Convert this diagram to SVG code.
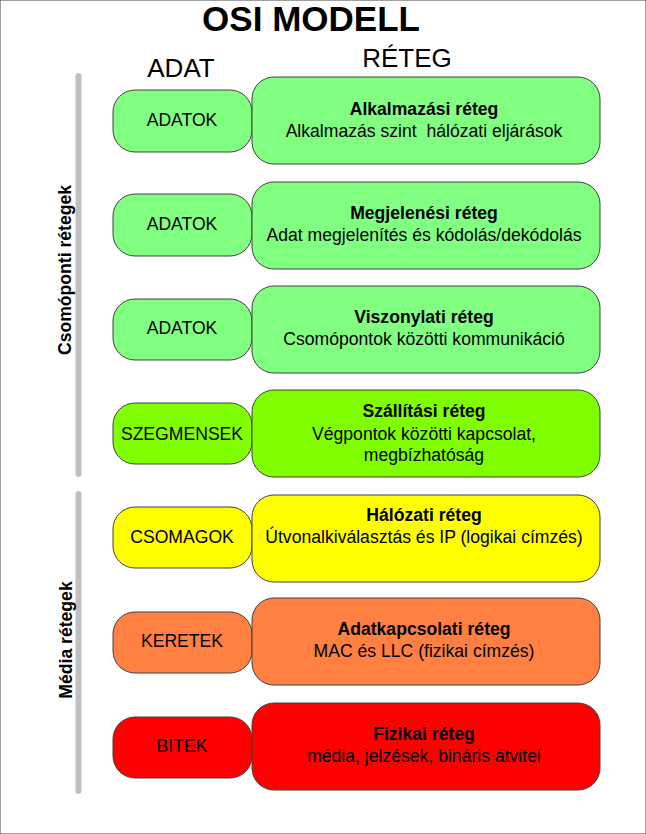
<svg xmlns="http://www.w3.org/2000/svg" width="646" height="834" viewBox="0 0 646 834">
<style>
text{font-family:"Liberation Sans",Arial,sans-serif;fill:#000}
.t{font-size:35px;font-weight:bold;text-anchor:middle}
.h{font-size:26px;text-anchor:middle}
.s{font-size:17.6px;text-anchor:middle}
.b{font-size:17.6px;font-weight:bold;text-anchor:middle}
.side{font-size:17.6px;font-weight:bold;text-anchor:middle}
rect{stroke:#404040;stroke-width:1}
.bar{stroke:#c0c0c0;stroke-width:6;stroke-linecap:round;fill:none}
.g1{fill:#80FF80}.g2{fill:#80FF00}.y{fill:#FFFF00}.o{fill:#FF8040}.r{fill:#FF0000}
</style>
<rect width="646" height="834" fill="#fff" stroke="none"/>
<text class="t" x="311" y="31">OSI MODELL</text>
<text class="h" x="181" y="77">ADAT</text>
<text class="h" x="407" y="67">RÉTEG</text>
<g id="bars">
<line class="bar" x1="78.5" y1="76" x2="78.5" y2="474"/>
<line class="bar" x1="78.5" y1="494" x2="78.5" y2="791"/>
</g>
<text class="side" transform="translate(71,270) rotate(-90)">Csomóponti rétegek</text>
<text class="side" transform="translate(72,640) rotate(-90)">Média rétegek</text>
<g id="connectors"></g>
<g id="data1"><rect class="g1" x="113" y="90" width="139" height="62" rx="22"/><text class="s" x="182" y="126">ADATOK</text></g>
<g id="layer7"><rect class="g1" x="252" y="77" width="348" height="87" rx="22"/><text class="b" x="424" y="115">Alkalmazási réteg</text><text class="s" x="424" y="137" style="white-space:pre">Alkalmazás szint  hálózati eljárások</text></g>
<g id="data2"><rect class="g1" x="113" y="194" width="139" height="62" rx="22"/><text class="s" x="182" y="230">ADATOK</text></g>
<g id="layer6"><rect class="g1" x="252" y="182" width="348" height="87" rx="22"/><text class="b" x="424" y="219">Megjelenési réteg</text><text class="s" x="424" y="241">Adat megjelenítés és kódolás/dekódolás</text></g>
<g id="data3"><rect class="g1" x="113" y="299" width="139" height="61" rx="22"/><text class="s" x="182" y="334">ADATOK</text></g>
<g id="layer5"><rect class="g1" x="252" y="286" width="348" height="87" rx="22"/><text class="b" x="424" y="323">Viszonylati réteg</text><text class="s" x="424" y="345">Csomópontok közötti kommunikáció</text></g>
<g id="data4"><rect class="g2" x="113" y="403" width="139" height="61" rx="22"/><text class="s" x="182" y="440">SZEGMENSEK</text></g>
<g id="layer4"><rect class="g2" x="252" y="390" width="348" height="87" rx="22"/><text class="b" x="424" y="417">Szállítási réteg</text><text class="s" x="424" y="440">Végpontok közötti kapcsolat,</text><text class="s" x="424" y="461">megbízhatóság</text></g>
<g id="data5"><rect class="y" x="113" y="507" width="139" height="61" rx="22"/><text class="s" x="182" y="543">CSOMAGOK</text></g>
<g id="layer3"><rect class="y" x="252" y="495" width="348" height="87" rx="22"/><text class="b" x="424" y="521">Hálózati réteg</text><text class="s" x="424" y="543">Útvonalkiválasztás és IP (logikai címzés)</text></g>
<g id="data6"><rect class="o" x="113" y="612" width="139" height="61" rx="22"/><text class="s" x="182" y="647">KERETEK</text></g>
<g id="layer2"><rect class="o" x="252" y="598" width="348" height="87" rx="22"/><text class="b" x="424" y="635">Adatkapcsolati réteg</text><text class="s" x="424" y="657">MAC és LLC (fizikai címzés)</text></g>
<g id="data7"><rect class="r" x="113" y="717" width="139" height="61" rx="22"/><text class="s" x="182" y="752">BITEK</text></g>
<g id="layer1"><rect class="r" x="252" y="703" width="348" height="87" rx="22"/><text class="b" x="424" y="740">Fizikai réteg</text><text class="s" x="424" y="762">média, jelzések, bináris átvitel</text></g>
</svg>
